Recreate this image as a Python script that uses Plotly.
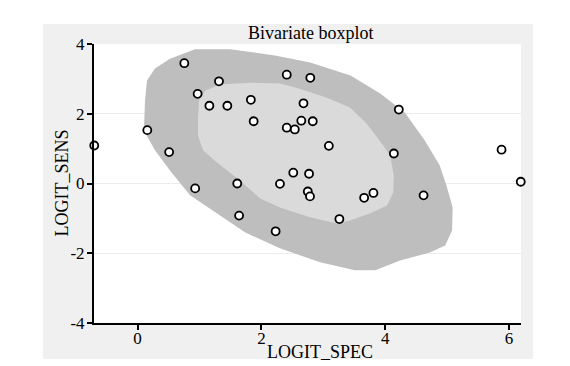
import plotly.graph_objects as go

# Study points (logit specificity, logit sensitivity)
logit_spec = [-0.70, 0.157, 0.51, 0.755, 0.93, 0.97, 1.315, 1.16, 1.45, 1.83, 1.875,
              1.61, 1.64, 2.23, 2.30, 2.41, 2.79, 2.68, 2.41, 2.54, 2.645, 2.83,
              2.515, 2.77, 2.75, 2.785, 3.09, 3.26, 3.66, 3.81, 4.14, 4.22, 4.62,
              5.88, 6.19]
logit_sens = [1.09, 1.53, 0.90, 3.45, -0.14, 2.57, 2.93, 2.23, 2.23, 2.40, 1.785,
              0.0, -0.92, -1.37, -0.01, 3.12, 3.03, 2.30, 1.60, 1.55, 1.80, 1.785,
              0.31, 0.28, -0.23, -0.37, 1.08, -1.02, -0.41, -0.27, 0.86, 2.12, -0.34,
              0.97, 0.05]

# Outer (fence) region boundary
fence_x = [0.103, 0.12, 0.152, 0.281, 0.523, 0.927, 1.493, 2.22, 2.79, 3.44, 3.92,
           4.32, 4.64, 4.88, 4.99, 5.09, 5.08, 4.97, 4.72, 4.24, 3.84, 3.51, 2.95,
           2.30, 1.735, 1.25, 0.847, 0.523, 0.281]
fence_y = [1.52, 2.38, 2.95, 3.30, 3.58, 3.85, 3.85, 3.67, 3.47, 3.10, 2.58,
           2.03, 1.23, 0.52, -0.06, -0.69, -1.35, -1.78, -1.98, -2.21, -2.49, -2.49,
           -2.26, -1.86, -1.40, -0.83, -0.34, 0.37, 0.95]

# Inner (hinge) region boundary
hinge_x = [0.976, 0.992, 1.089, 1.33, 1.816, 2.30, 2.62, 3.06, 3.43, 3.70, 3.91,
           4.08, 4.14, 4.13, 4.03, 3.75, 3.43, 3.22, 2.785, 2.30, 1.98, 1.654,
           1.283, 1.057, 0.976]
hinge_y = [1.89, 2.38, 2.66, 2.84, 2.89, 2.87, 2.72, 2.46, 2.18, 1.72, 1.23,
           0.80, 0.23, -0.26, -0.63, -0.86, -1.06, -1.15, -0.97, -0.69, -0.43, 0.086,
           0.60, 0.95, 1.375]

x_ticks = [0, 2, 4, 6]
y_ticks = [-4, -2, 0, 2, 4]

serif = "Liberation Serif"

fig = go.Figure()
fig.add_trace(go.Scatter(x=fence_x, y=fence_y, fill="toself", mode="lines",
                         line=dict(width=0, color="#bebebe"), fillcolor="#bebebe",
                         hoverinfo="skip", showlegend=False))
fig.add_trace(go.Scatter(x=hinge_x, y=hinge_y, fill="toself", mode="lines",
                         line=dict(width=0, color="#dadada"), fillcolor="#dadada",
                         hoverinfo="skip", showlegend=False))
fig.add_trace(go.Scatter(x=logit_spec, y=logit_sens, mode="markers",
                         marker=dict(symbol="circle", size=8, color="white",
                                     line=dict(color="black", width=1.8)),
                         cliponaxis=False, showlegend=False))

L, R, T, B = 94, 49, 44, 43
pw = 570 - L - R
ph = 366 - T - B

fig.update_layout(
    width=570, height=366,
    margin=dict(l=L, r=R, t=T, b=B, pad=0),
    paper_bgcolor="white", plot_bgcolor="white",
    font=dict(family=serif, size=17, color="black"),
    showlegend=False,
    shapes=[
        dict(type="rect", xref="paper", yref="paper", layer="below",
             x0=(43 - L) / pw, x1=(533 - L) / pw,
             y0=(366 - B - 359) / ph, y1=(366 - B - 24) / ph,
             fillcolor="#f0f0f0", line=dict(width=0)),
        dict(type="rect", xref="paper", yref="paper", layer="below",
             x0=0, x1=1, y0=0, y1=1, fillcolor="white", line=dict(width=0)),
    ],
    annotations=[
        dict(text="Bivariate boxplot", xref="paper", yref="paper",
             x=(310 - L) / pw, y=(366 - B - 33) / ph, showarrow=False,
             xanchor="center", yanchor="middle", font=dict(family=serif, size=18)),
        dict(text="LOGIT_SPEC", xref="paper", yref="paper",
             x=(320 - L) / pw, y=(366 - B - 352) / ph, showarrow=False,
             xanchor="center", yanchor="middle", font=dict(family=serif, size=18)),
        dict(text="LOGIT_SENS", xref="paper", yref="paper",
             x=(61 - L) / pw, y=0.5, showarrow=False, textangle=-90,
             xanchor="center", yanchor="middle", font=dict(family=serif, size=18)),
    ],
    xaxis=dict(range=[-0.704, 6.194], tickvals=x_ticks, ticktext=[str(v) for v in x_ticks],
               showgrid=False, zeroline=False, showline=True, linecolor="black",
               linewidth=2, ticks="outside", ticklen=5, tickwidth=1.5, tickcolor="black",
               ticklabelstandoff=-6,
               tickfont=dict(family=serif, size=17)),
    yaxis=dict(range=[-4, 4], tickvals=y_ticks, ticktext=[str(v) for v in y_ticks],
               showgrid=True, gridcolor="#ececec", gridwidth=1, zeroline=False,
               showline=True, linecolor="black", linewidth=2, ticks="outside",
               ticklen=5, tickwidth=1.5, tickcolor="black",
               ticklabelstandoff=-1,
               tickfont=dict(family=serif, size=17)),
)

fig.write_html("out.html", config={"displayModeBar": False},
               post_script="document.body.style.margin='0';document.body.style.overflow='hidden';")
